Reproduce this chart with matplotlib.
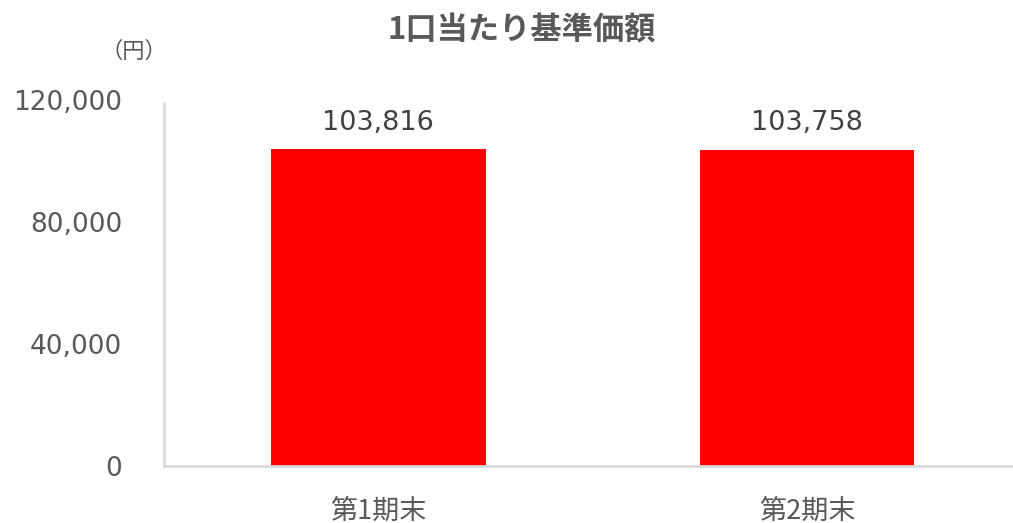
import matplotlib
matplotlib.use("Agg")
import matplotlib.pyplot as plt
from matplotlib.ticker import FuncFormatter

plt.rcParams['font.family'] = ['Noto Sans CJK JP', 'DejaVu Sans']

categories = ['第1期末', '第2期末']
values = [103816, 103758]
yticks = [0, 40000, 80000, 120000]

gray = '#595959'
num_font = ['DejaVu Sans']

fig = plt.figure(figsize=(10.13, 5.23), dpi=100)
ax = fig.add_axes([164 / 1013, 57 / 523, 1 - 164 / 1013, 366 / 523])

x = range(len(categories))
bars = ax.bar(x, values, width=0.5, color='#ff0000')
for b, v in zip(bars, values):
    ax.text(b.get_x() + b.get_width() / 2, 112500, f'{v:,}', ha='center', va='center',
            fontsize=19.5, color='#404040', family=num_font)

ax.set_xlim(-0.5, 1.48)
ax.set_ylim(0, 120000)
ax.set_yticks(yticks)
ax.yaxis.set_major_formatter(FuncFormatter(lambda v, p: f'{int(v):,}'))
ax.set_xticks(list(x))
ax.set_xticklabels(categories)
ax.tick_params(axis='y', length=0, pad=30, labelsize=19, labelcolor=gray)
ax.tick_params(axis='x', length=0, pad=23, labelsize=19.5, labelcolor=gray)
for lab in ax.get_yticklabels():
    lab.set_family(num_font)

for s in ['top', 'right']:
    ax.spines[s].set_visible(False)
for s in ['left', 'bottom']:
    ax.spines[s].set_color('#d9d9d9')
    ax.spines[s].set_linewidth(2)
ax.spines['left'].set_bounds(0, 119000)

fig.text(522 / 1013, 1 - 30 / 523, '1口当たり基準価額', ha='center', va='center',
         fontsize=22.5, fontweight='bold', color=gray)
fig.text(134 / 1013, 1 - 51 / 523, '（円）', ha='center', va='center',
         fontsize=16, color=gray)

fig.savefig('out.png', dpi=100, facecolor='white')
